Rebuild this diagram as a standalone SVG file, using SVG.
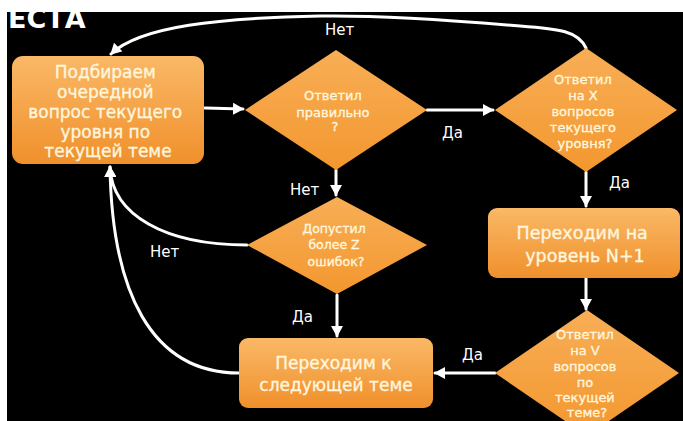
<svg xmlns="http://www.w3.org/2000/svg" width="683" height="421" viewBox="0 0 683 421">
  <defs>
    <linearGradient id="boxFill" x1="0" y1="0" x2="0" y2="1">
      <stop offset="0" stop-color="#fab866"/>
      <stop offset="1" stop-color="#f0902c"/>
    </linearGradient>
    <linearGradient id="diamondFill" x1="0" y1="0" x2="0" y2="1">
      <stop offset="0" stop-color="#f8ae56"/>
      <stop offset="1" stop-color="#f3972f"/>
    </linearGradient>
    <marker id="arrow" markerUnits="userSpaceOnUse" markerWidth="12" markerHeight="12" refX="10" refY="6" orient="auto">
      <path d="M0,0 L11,6 L0,12 Z" fill="#ffffff"/>
    </marker>
    <style>
      .box { fill: url(#boxFill); }
      .diamond { fill: url(#diamondFill); }
      .inner { font-family: "DejaVu Sans", "Liberation Sans", sans-serif; fill: #fff6de; stroke: #fff6de; stroke-width: 0.35; text-anchor: middle; }
      .label { font-family: "DejaVu Sans", "Liberation Sans", sans-serif; fill: #ffffff; font-size: 15px; }
      .link { fill: none; stroke: #ffffff; stroke-width: 3; stroke-linecap: round; }
    </style>
  </defs>

  <!-- page -->
  <rect x="0" y="0" width="683" height="421" fill="#ffffff"/>
  <rect x="7" y="12" width="676" height="409" fill="#000000"/>

  <!-- heading, partly cut by the top edge -->
  <text x="8" y="28" font-family="DejaVu Sans, sans-serif" font-weight="bold" font-size="27" fill="#ffffff">ЕСТА</text>
  <rect x="0" y="0" width="683" height="12" fill="#ffffff"/>

  <!-- connectors -->
  <g id="connectors">
    <path class="link" d="M205,108 L243,109" marker-end="url(#arrow)"/>
    <path class="link" d="M427,110 L493,110" marker-end="url(#arrow)"/>
    <path class="link" d="M586,48 C578,31 560,29 520,26 C450,20 380,15 320,16 C220,18 140,26 111,54" marker-end="url(#arrow)"/>
    <path class="link" d="M336,170 L336,195" marker-end="url(#arrow)"/>
    <path class="link" d="M247,245 C165,245 112,215 110,167" marker-end="url(#arrow)"/>
    <path class="link" d="M239,373 C150,373 112,290 110,167" marker-end="url(#arrow)"/>
    <path class="link" d="M337,295 L337,336" marker-end="url(#arrow)"/>
    <path class="link" d="M586,172 L586,206" marker-end="url(#arrow)"/>
    <path class="link" d="M586,278 L586,309" marker-end="url(#arrow)"/>
    <path class="link" d="M495,373 L435,373" marker-end="url(#arrow)"/>

    <text class="label" x="325" y="35">Нет</text>
    <text class="label" x="442" y="138">Да</text>
    <text class="label" x="290" y="195">Нет</text>
    <text class="label" x="150" y="257">Нет</text>
    <text class="label" x="292" y="322">Да</text>
    <text class="label" x="609" y="188">Да</text>
    <text class="label" x="462" y="360">Да</text>
  </g>

  <!-- nodes -->
  <g id="pick-question">
    <rect class="box" x="12" y="56" width="192" height="108" rx="11"/>
    <text class="inner" font-size="17">
      <tspan x="108" y="78">Подбираем</tspan>
      <tspan x="108" y="98">очередной</tspan>
      <tspan x="108" y="118">вопрос текущего</tspan>
      <tspan x="108" y="138">уровня по</tspan>
      <tspan x="108" y="157">текущей теме</tspan>
    </text>
  </g>

  <g id="answered-correctly">
    <polygon class="diamond" points="336,50 427,110 336,170 245,110"/>
    <text class="inner" font-size="13">
      <tspan x="335" y="100">Ответил</tspan>
      <tspan x="335" y="117">правильно</tspan>
      <tspan x="335" y="131">?</tspan>
    </text>
  </g>

  <g id="answered-x">
    <polygon class="diamond" points="586,48 677,110 586,172 495,110"/>
    <text class="inner" font-size="13">
      <tspan x="585" y="84">Ответил</tspan>
      <tspan x="585" y="100">на X</tspan>
      <tspan x="585" y="116">вопросов</tspan>
      <tspan x="585" y="132">текущего</tspan>
      <tspan x="585" y="148">уровня?</tspan>
    </text>
  </g>

  <g id="too-many-errors">
    <polygon class="diamond" points="337,197 427,245 337,294 247,245"/>
    <text class="inner" font-size="12.5">
      <tspan x="336" y="233">Допустил</tspan>
      <tspan x="336" y="249">более Z</tspan>
      <tspan x="336" y="266">ошибок?</tspan>
    </text>
  </g>

  <g id="next-level">
    <rect class="box" x="488" y="208" width="192" height="70" rx="9"/>
    <text class="inner" font-size="17.5">
      <tspan x="585" y="239">Переходим на</tspan>
      <tspan x="585" y="262">уровень N+1</tspan>
    </text>
  </g>

  <g id="answered-v">
    <polygon class="diamond" points="587,310 679,373 587,436 495,373"/>
    <text class="inner" font-size="13">
      <tspan x="587" y="339">Ответил</tspan>
      <tspan x="587" y="355">на V</tspan>
      <tspan x="587" y="371">вопросов</tspan>
      <tspan x="587" y="387">по</tspan>
      <tspan x="587" y="402">текущей</tspan>
      <tspan x="587" y="417">теме?</tspan>
    </text>
  </g>

  <g id="next-topic">
    <rect class="box" x="239" y="338" width="194" height="70" rx="9"/>
    <text class="inner" font-size="17">
      <tspan x="336" y="369">Переходим к</tspan>
      <tspan x="336" y="391">следующей теме</tspan>
    </text>
  </g>
</svg>
